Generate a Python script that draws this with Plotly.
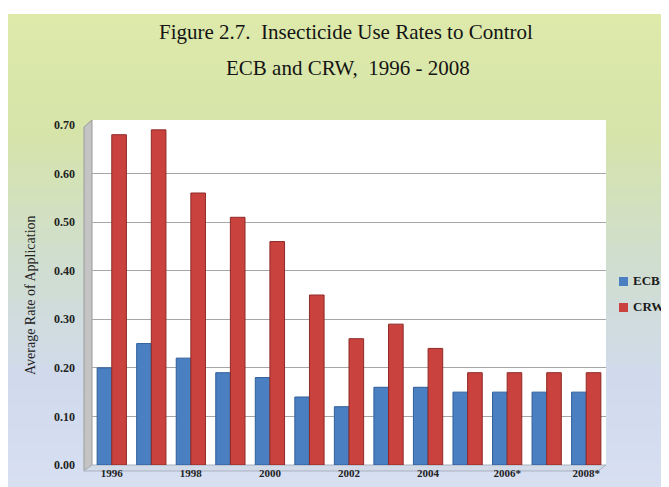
import plotly.graph_objects as go

years = [1996, 1997, 1998, 1999, 2000, 2001, 2002, 2003, 2004, 2005, 2006, 2007, 2008]
ecb = [0.20, 0.25, 0.22, 0.19, 0.18, 0.14, 0.12, 0.16, 0.16, 0.15, 0.15, 0.15, 0.15]
crw = [0.68, 0.69, 0.56, 0.51, 0.46, 0.35, 0.26, 0.29, 0.24, 0.19, 0.19, 0.19, 0.19]
series_names = ["ECB", "CRW"]
series_colors = ["#4a7fc1", "#c9423e"]
tick_years = [1996, 1998, 2000, 2002, 2004, 2006, 2008]
tick_text = ["1996", "1998", "2000", "2002", "2004", "2006*", "2008*"]
y_ticks = [0.0, 0.1, 0.2, 0.3, 0.4, 0.5, 0.6, 0.7]

W, H = 669, 487
L, R, T, B = 84, 71, 117, 30
pw, ph = W - L - R, H - T - B

SERIF = "Liberation Serif, Times New Roman, serif"

def px_x(x):
    return (x - L) / pw

def px_y(y):
    return (H - B - y) / ph

fig = go.Figure()
fig.add_trace(go.Bar(x=years, y=ecb, name=series_names[0],
                     marker=dict(color=series_colors[0], line=dict(color="#2f5f9a", width=1))))
fig.add_trace(go.Bar(x=years, y=crw, name=series_names[1],
                     marker=dict(color=series_colors[1], line=dict(color="#8e2a27", width=1))))

# background gradient (decorative)
def lerp(c1, c2, t):
    return tuple(round(a + (b - a) * t) for a, b in zip(c1, c2))

stops = [(0.0, (222, 234, 170)), (0.25, (214, 228, 170)), (0.5, (208, 222, 205)), (0.75, (208, 218, 236)), (1.0, (216, 224, 242))]
shapes = []
N = 60
for i in range(N):
    f = i / N
    for j in range(len(stops) - 1):
        if stops[j][0] <= f <= stops[j + 1][0]:
            t = (f - stops[j][0]) / (stops[j + 1][0] - stops[j][0])
            c = lerp(stops[j][1], stops[j + 1][1], t)
            break
    y1 = 1 - f
    y0 = 1 - (i + 1) / N
    shapes.append(dict(type="rect", xref="paper", yref="paper", layer="below",
                       x0=-L / pw, x1=1 + R / pw,
                       y0=-B / ph + y0 * (H / ph), y1=-B / ph + y1 * (H / ph) + 0.002,
                       line=dict(width=0), fillcolor="rgb(%d,%d,%d)" % c))
# white top band
shapes.append(dict(type="rect", xref="paper", yref="paper", layer="below",
                   x0=-L / pw, x1=1 + R / pw, y0=1 + (T - 6) / ph, y1=1 + T / ph + 0.01,
                   line=dict(width=0), fillcolor="white"))
# plot wall
shapes.append(dict(type="rect", xref="paper", yref="paper", layer="below",
                   x0=0, x1=1, y0=0, y1=1 + 5 / ph, line=dict(width=0), fillcolor="white"))
# side wall
shapes.append(dict(type="path", xref="paper", yref="paper", layer="below",
                   path="M %f,%f L 0,%f L 0,%f L %f,%f Z" % (-8 / pw, 1 - 2 / ph, 1 + 5 / ph, 0.0, -8 / pw, -6 / ph),
                   line=dict(color="#9a9a9a", width=1), fillcolor="#c4c4c4"))
# floor
shapes.append(dict(type="path", xref="paper", yref="paper", layer="below",
                   path="M %f,%f L 0,0 L 1,0 L %f,%f Z" % (-8 / pw, -6 / ph, 1 - 8 / pw, -6 / ph),
                   line=dict(color="#a8b2c2", width=1), fillcolor="#d3dbe8"))

annotations = [
    dict(text="Figure 2.7.  Insecticide Use Rates to Control", xref="paper", yref="paper",
         x=px_x(338), y=px_y(24), xanchor="center", yanchor="middle", showarrow=False,
         font=dict(family=SERIF, size=21, color="#141414")),
    dict(text="ECB and CRW,  1996 - 2008", xref="paper", yref="paper",
         x=px_x(340), y=px_y(60), xanchor="center", yanchor="middle", showarrow=False,
         font=dict(family=SERIF, size=21, color="#141414")),
    dict(text="Average Rate of Application", xref="paper", yref="paper", textangle=-90,
         x=px_x(22), y=px_y(287), xanchor="center", yanchor="middle", showarrow=False,
         font=dict(family=SERIF, size=14, color="#222222")),
]

# legend (drawn as key squares + text labels)
legend_rows = [272, 298]
for name, color, yc in zip(series_names, series_colors, legend_rows):
    shapes.append(dict(type="rect", xref="paper", yref="paper", layer="above",
                       x0=px_x(611), x1=px_x(620), y0=px_y(yc + 6), y1=px_y(yc - 3),
                       line=dict(width=0), fillcolor=color))
    annotations.append(dict(text=name, xref="paper", yref="paper", x=px_x(623), y=px_y(yc),
                            xanchor="left", yanchor="middle", showarrow=False,
                            font=dict(family=SERIF, size=13, color="#1a1a1a", weight="bold")))

fig.update_layout(
    width=W, height=H,
    margin=dict(l=L, r=R, t=T, b=B, autoexpand=False),
    paper_bgcolor="rgb(214,224,214)",
    plot_bgcolor="rgba(0,0,0,0)",
    barmode="group", bargap=0.26, bargroupgap=0.0,
    shapes=shapes, annotations=annotations,
    showlegend=False,
    xaxis=dict(tickmode="array", tickvals=tick_years, ticktext=tick_text,
               range=[1995.5, 2008.5], showgrid=False, zeroline=False, showline=False,
               ticks="", tickfont=dict(family=SERIF, size=11, color="#222222", weight="bold"),
               ticklabelstandoff=0),
    yaxis=dict(range=[0, 0.70], tickmode="array", tickvals=y_ticks, tickformat=".2f",
               showgrid=True, gridcolor="#a6a6a6", gridwidth=1, zeroline=False, showline=False,
               ticks="", tickfont=dict(family=SERIF, size=12, color="#222222", weight="bold"),
               ticklabelstandoff=16),
    font=dict(family=SERIF),
)

fig.write_html("out.html")
